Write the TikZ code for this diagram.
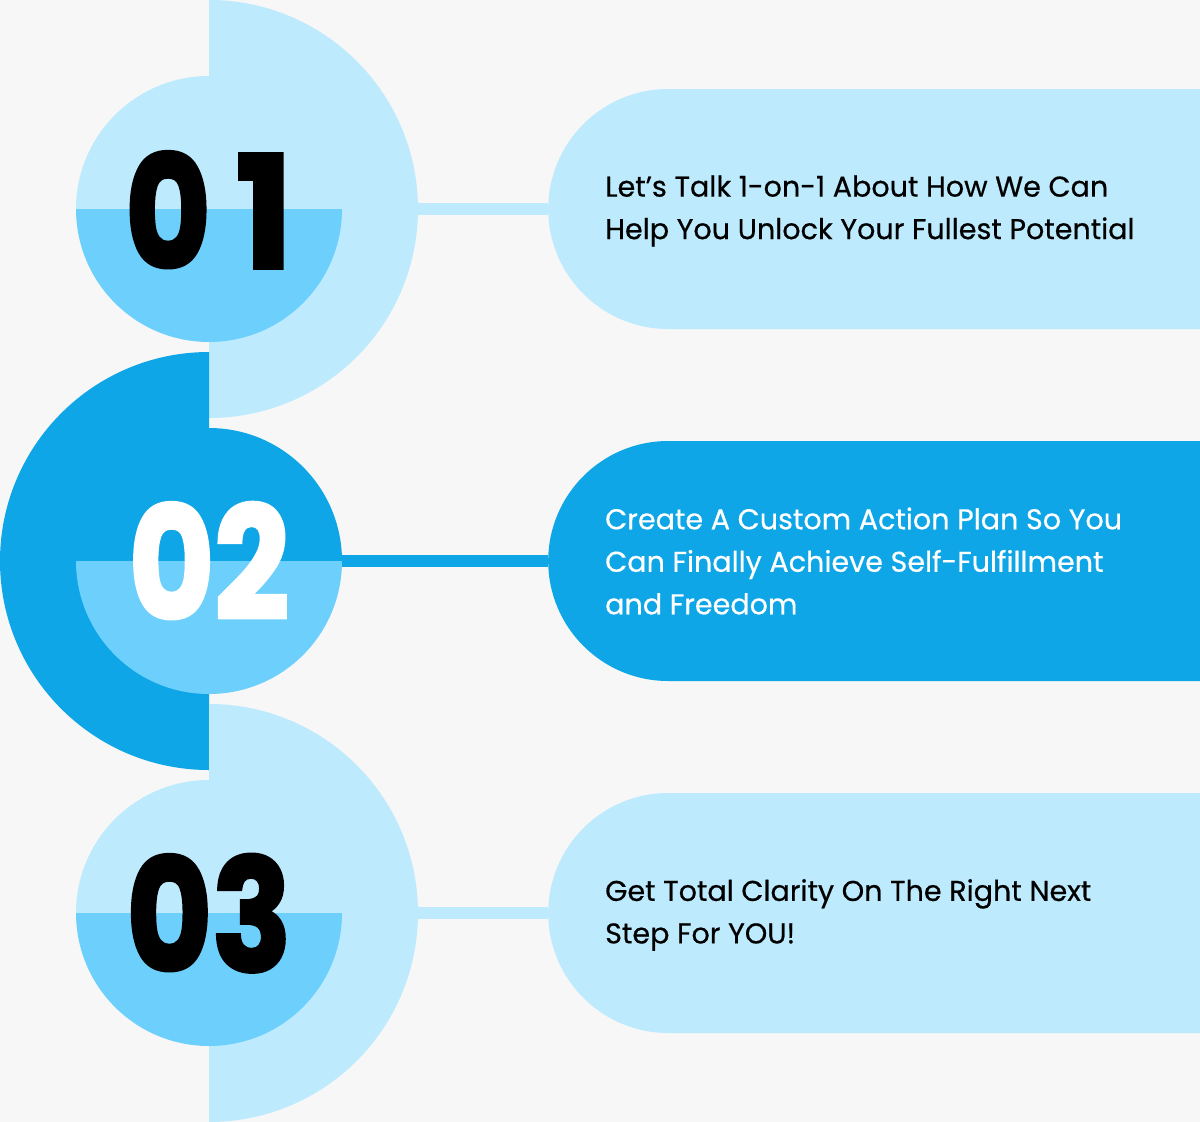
\documentclass[tikz,border=0pt]{standalone}
\usepackage{fontspec}
\setmainfont{Poppins}[UprightFeatures={FakeBold=0.5}]
\newfontfamily\numfont{Poppins}[UprightFont={* Bold},BoldFont={* Bold},Numbers=Monospaced,UprightFeatures={FakeBold=2.5}]
\definecolor{bgc}{HTML}{F7F7F7}
\definecolor{lightb}{HTML}{BDEBFD}
\definecolor{midb}{HTML}{6DD0FC}
\definecolor{darkb}{HTML}{0EA6E6}
\tikzset{
  pill/.style={rectangle, rounded corners=120pt, minimum height=240pt, minimum width=900pt, inner sep=0pt, anchor=west},
  ring/.style={circle, minimum size=266pt, inner sep=0pt},
  numtxt/.style={anchor=base, inner sep=0pt, xscale=0.84, font=\numfont\fontsize{156}{156}\selectfont},
  bodytxt/.style={anchor=west, align=left, inner sep=0pt, font=\fontsize{28.6}{42.5}\selectfont},
  conn/.style={line width=12pt}
}
\begin{document}
\begin{tikzpicture}[x=1pt,y=-1pt]
\useasboundingbox (0,0) rectangle (1200,1122);
\clip (0,0) rectangle (1200,1122);
\fill[bgc] (0,0) rectangle (1200,1122);

% ---------- Row 1 ----------
\begin{scope}
  \clip (209,0) rectangle (430,418);
  \fill[lightb] (209,209) circle (209pt);
\end{scope}
\coordinate (h1) at (418,209);
\node[pill, fill=lightb] (p1) at (548,209) {};
\draw[conn, lightb] (h1) -- (p1.west);
\node[ring] (c1) at (209,209) {};
\begin{scope}
  \clip (60,60) rectangle (360,209);
  \fill[lightb] (c1.center) circle (133pt);
\end{scope}
\begin{scope}
  \clip (60,209) rectangle (360,360);
  \fill[midb] (c1.center) circle (133pt);
\end{scope}
\node[numtxt, black] (n1) at (209,268) {0\kern30pt\scalebox{1.15}[1]{1}};
\node[bodytxt, black] (t1) at (605,211) {Let’s Talk 1-on-1 About How We Can\\Help You Unlock Your Fullest Potential};

% ---------- Row 2 ----------
\begin{scope}
  \clip (-5,352) rectangle (209,770);
  \fill[darkb] (209,561) circle (209pt);
\end{scope}
\node[pill, fill=darkb] (p2) at (548,561) {};
\node[ring] (c2) at (209,561) {};
\draw[conn, darkb] (c2.east) -- (p2.west);
\begin{scope}
  \clip (60,400) rectangle (360,561);
  \fill[darkb] (c2.center) circle (133pt);
\end{scope}
\begin{scope}
  \clip (60,561) rectangle (360,720);
  \fill[midb] (c2.center) circle (133pt);
\end{scope}
\node[numtxt, white] (n2) at (209,619) {02};
\node[bodytxt, white] (t2) at (605,561) {Create A Custom Action Plan So You\\Can Finally Achieve Self-Fulfillment\\and Freedom};

% ---------- Row 3 ----------
\begin{scope}
  \clip (209,704) rectangle (430,1130);
  \fill[lightb] (209,913) circle (209pt);
\end{scope}
\coordinate (h3) at (418,913);
\node[pill, fill=lightb] (p3) at (548,913) {};
\draw[conn, lightb] (h3) -- (p3.west);
\node[ring] (c3) at (209,913) {};
\begin{scope}
  \clip (60,760) rectangle (360,913);
  \fill[lightb] (c3.center) circle (133pt);
\end{scope}
\begin{scope}
  \clip (60,913) rectangle (360,1070);
  \fill[midb] (c3.center) circle (133pt);
\end{scope}
\node[numtxt, black] (n3) at (209,971) {03};
\node[bodytxt, black] (t3) at (605,915) {Get Total Clarity On The Right Next\\Step For YOU!};
\end{tikzpicture}
\end{document}
